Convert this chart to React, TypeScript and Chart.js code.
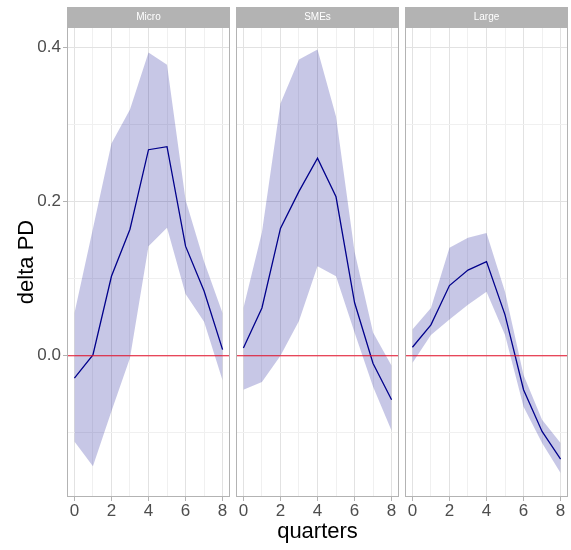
import React, { useEffect, useRef } from "react";
import { Chart, registerables } from "chart.js";

Chart.register(...registerables);

// ---------------- data ----------------
const quarters = [0, 1, 2, 3, 4, 5, 6, 7, 8];
const panelNames = ["Micro", "SMEs", "Large"];

const microEstimate = [-0.029, 0.001, 0.103, 0.164, 0.267, 0.271, 0.142, 0.084, 0.008];
const microUpper = [0.055, 0.165, 0.275, 0.319, 0.393, 0.377, 0.202, 0.122, 0.055];
const microLower = [-0.111, -0.143, -0.072, -0.003, 0.142, 0.166, 0.08, 0.044, -0.032];

const smesEstimate = [0.01, 0.062, 0.165, 0.213, 0.256, 0.206, 0.069, -0.01, -0.057];
const smesUpper = [0.062, 0.16, 0.327, 0.384, 0.397, 0.31, 0.135, 0.03, -0.013];
const smesLower = [-0.044, -0.034, 0.0, 0.045, 0.116, 0.103, 0.03, -0.04, -0.097];

const largeEstimate = [0.011, 0.04, 0.091, 0.111, 0.122, 0.053, -0.044, -0.098, -0.134];
const largeUpper = [0.034, 0.062, 0.14, 0.153, 0.159, 0.083, -0.025, -0.083, -0.113];
const largeLower = [-0.0095, 0.027, 0.047, 0.066, 0.083, 0.027, -0.066, -0.113, -0.152];

const xTickValues = [0, 1, 2, 3, 4, 5, 6, 7, 8];
const xLabeledTicks = [0, 2, 4, 6, 8];
const yTickValues = [-0.1, 0, 0.1, 0.2, 0.3, 0.4];
const yLabeledTicks = [0, 0.2, 0.4];
const xMin = -0.4;
const xMax = 8.4;
const yMin = -0.183;
const yMax = 0.426;
const zeroLineValue = 0;

const xTitle = "quarters";
const yTitle = "delta PD";

// ---------------- styles ----------------
const FONT = "'Liberation Sans', Arial, Helvetica, sans-serif";
const BAND = "rgba(0,0,139,0.22)";
const LINE = "#00008b";
const MAJOR = "#e2e2e2";
const MINOR = "#f0f0f0";
const BORDER = "#b3b3b3";
const TICKTEXT = "#4d4d4d";

const isIn = (list: number[], v: any) =>
  typeof v === "number" && list.some((t) => Math.abs(t - v) < 1e-9);

type PanelProps = {
  name: string;
  est: number[];
  up: number[];
  lo: number[];
  showY: boolean;
  showXTitle: boolean;
  left: number;
  width: number;
  yAxisWidth: number;
  padRight: number;
};

function Panel(p: PanelProps) {
  const ref = useRef<HTMLCanvasElement | null>(null);
  useEffect(() => {
    if (!ref.current) return;
    const toXY = (vals: number[]) => quarters.map((q, i) => ({ x: q, y: vals[i] }));

    const decor = {
      id: "decor" + p.name,
      afterDatasetsDraw(chart: any) {
        const { ctx, chartArea } = chart;
        const ys = chart.scales.y;
        const y0 = ys.getPixelForValue(zeroLineValue);
        ctx.save();
        ctx.strokeStyle = "#e8102a";
        ctx.lineWidth = 1;
        ctx.beginPath();
        ctx.moveTo(chartArea.left, y0);
        ctx.lineTo(chartArea.right, y0);
        ctx.stroke();
        // panel border
        ctx.strokeStyle = BORDER;
        ctx.lineWidth = 1;
        ctx.strokeRect(
          chartArea.left + 0.5,
          chartArea.top + 0.5,
          chartArea.right - chartArea.left - 1,
          chartArea.bottom - chartArea.top - 1
        );
        // strip
        ctx.fillStyle = BORDER;
        ctx.fillRect(chartArea.left, chartArea.top - 20, chartArea.right - chartArea.left, 20);
        ctx.fillStyle = "#ffffff";
        ctx.font = `10px ${FONT}`;
        ctx.textAlign = "center";
        ctx.textBaseline = "middle";
        ctx.fillText(p.name, (chartArea.left + chartArea.right) / 2, chartArea.top - 10);
        ctx.restore();
      },
    };

    const chart = new Chart(ref.current, {
      type: "line",
      data: {
        datasets: [
          {
            label: "lower",
            data: toXY(p.lo),
            borderColor: "rgba(0,0,0,0)",
            borderWidth: 0,
            pointRadius: 0,
            fill: false,
            backgroundColor: BAND,
            tension: 0,
          },
          {
            label: "upper",
            data: toXY(p.up),
            borderColor: "rgba(0,0,0,0)",
            borderWidth: 0,
            pointRadius: 0,
            fill: "-1",
            backgroundColor: BAND,
            tension: 0,
          },
          {
            label: "estimate",
            data: toXY(p.est),
            borderColor: LINE,
            borderWidth: 1.3,
            pointRadius: 0,
            fill: false,
            tension: 0,
          },
        ],
      },
      options: {
        animation: false,
        responsive: false,
        events: [],
        layout: { padding: { top: 27, right: p.padRight, left: 0, bottom: 0 } },
        plugins: {
          legend: { display: false },
          tooltip: { enabled: false },
        },
        scales: {
          x: {
            type: "linear",
            min: xMin,
            max: xMax,
            afterBuildTicks: (s: any) => {
              s.ticks = xTickValues.map((v) => ({ value: v }));
            },
            afterFit: (s: any) => {
              s.height = 53;
            },
            ticks: {
              autoSkip: false,
              maxRotation: 0,
              padding: 0,
              color: TICKTEXT,
              font: { family: FONT, size: 17 },
              callback: (v: any) => (isIn(xLabeledTicks, v) ? String(v) : ""),
            },
            grid: {
              color: (c: any) => (isIn(xLabeledTicks, c.tick && c.tick.value) ? MAJOR : MINOR),
              lineWidth: 1,
              drawTicks: true,
              tickLength: 4,
              tickColor: (c: any) =>
                isIn(xLabeledTicks, c.tick && c.tick.value) ? BORDER : "rgba(0,0,0,0)",
            },
            border: { display: false },
            title: p.showXTitle
              ? {
                  display: true,
                  text: xTitle,
                  color: "#000",
                  font: { family: FONT, size: 22 },
                  padding: { top: 0, bottom: 5 },
                }
              : { display: false },
          },
          y: {
            type: "linear",
            min: yMin,
            max: yMax,
            afterBuildTicks: (s: any) => {
              s.ticks = yTickValues.map((v) => ({ value: v }));
            },
            afterFit: (s: any) => {
              s.width = p.yAxisWidth;
            },
            ticks: {
              display: p.showY,
              autoSkip: false,
              padding: 2,
              color: TICKTEXT,
              font: { family: FONT, size: 17 },
              callback: (v: any) => (isIn(yLabeledTicks, v) ? Number(v).toFixed(1) : ""),
            },
            grid: {
              color: (c: any) => (isIn(yLabeledTicks, c.tick && c.tick.value) ? MAJOR : MINOR),
              lineWidth: 1,
              drawTicks: p.showY,
              tickLength: p.showY ? 4 : 0,
              tickColor: (c: any) =>
                isIn(yLabeledTicks, c.tick && c.tick.value) ? BORDER : "rgba(0,0,0,0)",
            },
            border: { display: false },
            title: p.showY
              ? {
                  display: true,
                  text: yTitle,
                  color: "#000",
                  font: { family: FONT, size: 22 },
                  padding: { top: 14, bottom: 0 },
                }
              : { display: false },
          },
        },
      } as any,
      plugins: [decor],
    } as any);
    return () => chart.destroy();
  }, []);

  return (
    <canvas
      ref={ref}
      width={p.width}
      height={550}
      style={{ position: "absolute", left: p.left, top: 0, width: p.width, height: 550 }}
    />
  );
}

export default function App() {
  return (
    <div
      style={{
        position: "absolute",
        left: 0,
        top: 0,
        width: 571,
        height: 550,
        background: "#ffffff",
        overflow: "hidden",
      }}
    >
      <Panel
        name={panelNames[0]}
        est={microEstimate}
        up={microUpper}
        lo={microLower}
        showY={true}
        showXTitle={false}
        left={0}
        width={230}
        yAxisWidth={67}
        padRight={0}
      />
      <Panel
        name={panelNames[1]}
        est={smesEstimate}
        up={smesUpper}
        lo={smesLower}
        showY={false}
        showXTitle={true}
        left={230}
        width={170}
        yAxisWidth={6}
        padRight={1}
      />
      <Panel
        name={panelNames[2]}
        est={largeEstimate}
        up={largeUpper}
        lo={largeLower}
        showY={false}
        showXTitle={false}
        left={400}
        width={171}
        yAxisWidth={5}
        padRight={3}
      />
    </div>
  );
}
